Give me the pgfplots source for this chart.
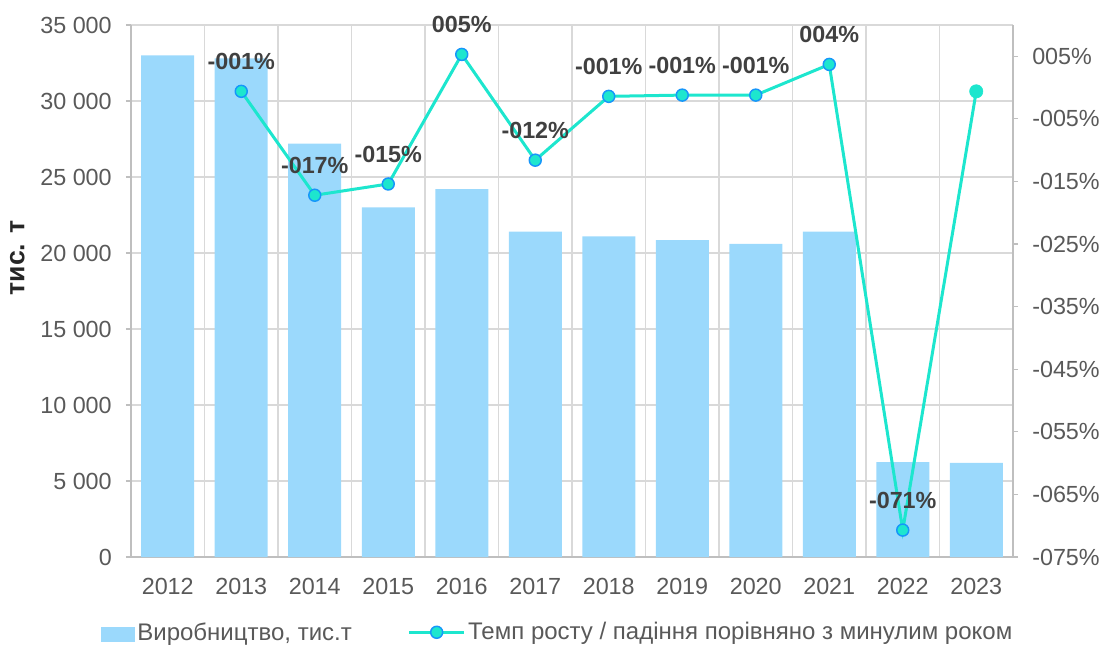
\documentclass[border=0pt]{standalone}
\usepackage{pgfplots}
\pgfplotsset{compat=1.18}
\usepackage{fontspec}
\setmainfont{Liberation Sans}
\definecolor{barblue}{RGB}{155,217,252}
\definecolor{turq}{RGB}{29,230,206}
\definecolor{mkblue}{RGB}{22,150,250}
\definecolor{txtgray}{RGB}{89,89,89}
\definecolor{lblgray}{RGB}{64,64,64}
\definecolor{gridgray}{RGB}{217,217,217}
\definecolor{axgray}{RGB}{191,191,191}
\newcommand\fs{\fontsize{17.5}{21}\selectfont}

\begin{document}
\begin{tikzpicture}
\pgfplotsset{
  base/.style={
    scale only axis, width=661.5pt, height=399pt,
    at={(0,0)}, anchor=south west,
    xmin=-0.5, xmax=11.5,
    tick align=outside, major tick length=3.75pt,
    ticklabel style={font=\fs, text=txtgray},
    /pgf/number format/assume math mode=true,
  }
}
% production, thousand t
\begin{axis}[base,
  axis x line*=bottom, axis y line*=left,
  x axis line style={axgray, line width=1pt},
  y axis line style={axgray, line width=1pt},
  ymin=0, ymax=35000, ytick={0,5000,...,35000},
  scaled y ticks=false,
  ymajorgrids, major grid style={gridgray, line width=0.9pt},
  minor xtick={0.5,1.5,...,10.5}, xminorgrids,
  minor grid style={gridgray, line width=0.9pt},
  xtick={0,...,11},
  xticklabels={2012,2013,2014,2015,2016,2017,2018,2019,2020,2021,2022,2023},
  xtick style={draw=none}, minor x tick style={draw=none},
  ytick style={axgray, line width=0.9pt},
  yticklabel style={anchor=east, inner sep=0pt, xshift=-10.5pt},
  xticklabel style={anchor=base, inner sep=0pt, yshift=-24pt},
  /pgf/number format/.cd, 1000 sep={\ },
  /pgfplots/.cd,
  ylabel={тис. т},
  ylabel style={at={(axis description cs:-0.129,0.562)}, anchor=center,
    font=\fontsize{20}{23}\selectfont\bfseries, text=black!85},
]
\addplot[ybar, bar width=39.75pt, fill=barblue, draw=none] coordinates {
  (0,33000) (1,32800) (2,27200) (3,23000) (4,24200) (5,21400)
  (6,21100) (7,20850) (8,20600) (9,21400) (10,6250) (11,6200)
};
\end{axis}
% growth rate vs previous year
\begin{axis}[base,
  axis y line*=right, axis x line=none,
  y axis line style={axgray, line width=1pt},
  ytick style={axgray, line width=0.9pt},
  ymin=-0.75, ymax=0.10,
  ytick={-0.75,-0.65,-0.55,-0.45,-0.35,-0.25,-0.15,-0.05,0.05},
  yticklabels={-075\%,-065\%,-055\%,-045\%,-035\%,-025\%,-015\%,-005\%,005\%},
  yticklabel style={anchor=west, inner sep=0pt, xshift=10.5pt},
  legend style={at={(axis description cs:-0.0345,-0.1415)}, anchor=west,
    draw=none, fill=none, font=\fontsize{18}{21}\selectfont, text=txtgray,
    inner xsep=0pt, inner ysep=0pt,
    /tikz/every even column/.append style={column sep=40pt}},
  legend columns=2, legend cell align=left,
]
\addlegendimage{legend image code/.code={\fill[barblue] (0pt,-7pt) rectangle (25pt,4pt);}}
\addlegendentry{Виробництво, тис.т}
\addplot[turq, line width=2.25pt, mark=*, mark size=4.5pt,
  mark options={fill=turq, draw=mkblue, line width=1.1pt},
  mark indices={1,...,10},
  point meta=explicit symbolic, nodes near coords,
  nodes near coords style={font=\fs\bfseries, text=lblgray, anchor=center, yshift=22.5pt},
  legend image code/.code={\draw[turq, line width=2.25pt] (0pt,0pt) -- (41pt,0pt);
    \filldraw[fill=turq, draw=mkblue, line width=1.1pt] (20.5pt,0pt) circle (4.5pt);}]
coordinates {
  (1,-0.006) [-001\%] (2,-0.172) [-017\%] (3,-0.154) [-015\%] (4,0.053) [005\%]
  (5,-0.116) [-012\%] (6,-0.014) [-001\%] (7,-0.012) [-001\%] (8,-0.012) [-001\%]
  (9,0.037) [004\%] (10,-0.707) [-071\%] (11,-0.006) [-001\%]
};
\addlegendentry{Темп росту / падіння порівняно з минулим роком}
\addplot[only marks, mark=*, mark size=5pt, turq, forget plot] coordinates {(11,-0.006)};
\end{axis}
\pgfresetboundingbox
\useasboundingbox (-98.25pt,-67.5pt) rectangle (729.75pt,417.75pt);
\end{tikzpicture}
\end{document}
